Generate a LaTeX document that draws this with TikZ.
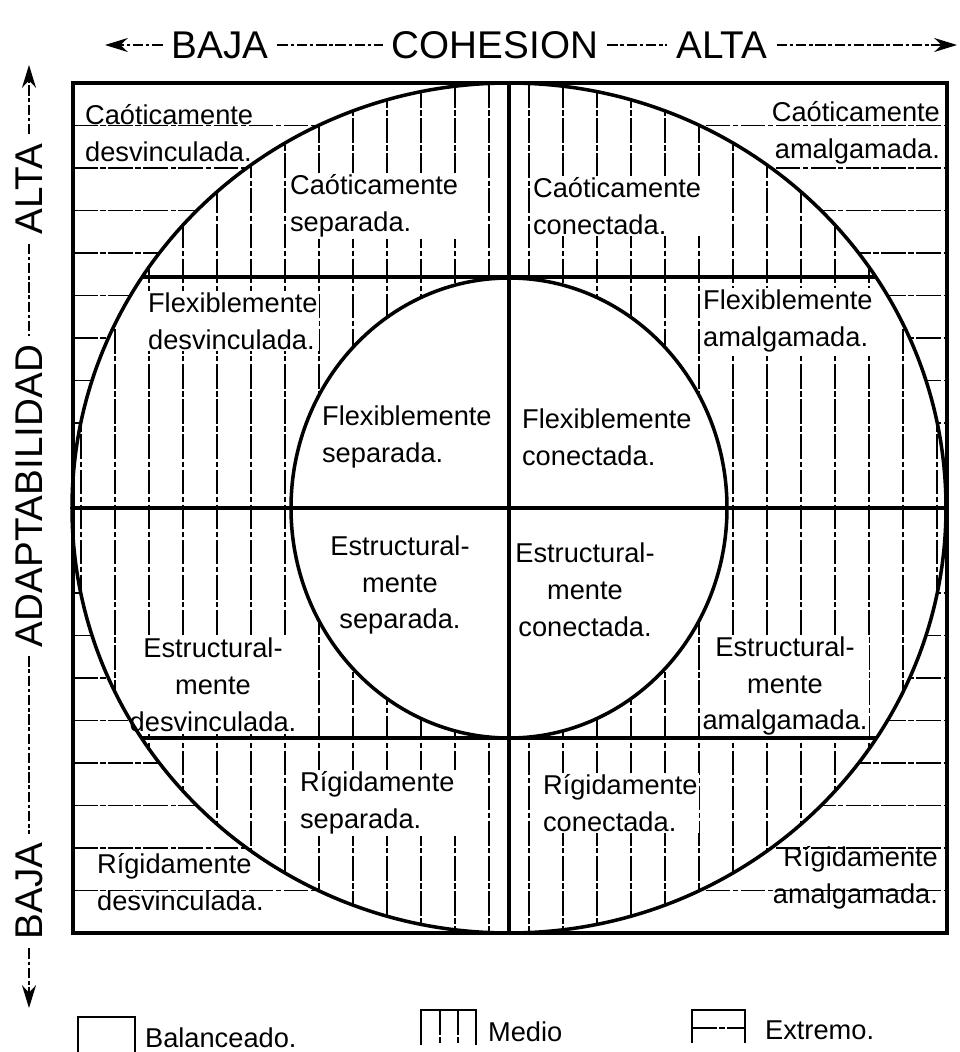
\documentclass[tikz,border=0pt]{standalone}
\usepackage{fontspec}
\setmainfont{Liberation Sans}
\usetikzlibrary{arrows.meta}

\tikzset{
    txt/.style={font=\fontsize{15.5}{21}\selectfont, inner sep=1pt},
    txtw/.style={txt, fill=white},
    eje/.style={font=\fontsize{22}{26}\selectfont, inner sep=5pt},
    rayado/.style={line width=0.7pt, dash pattern=on 14pt off 1.5pt on 3pt off 1.5pt},
    borde/.style={line width=2pt},
    flecha/.style={line width=0.8pt, dash pattern=on 6pt off 1.5pt on 2pt off 1.5pt},
    punta/.style={-{Stealth[length=13pt,width=8pt]}},
}

\begin{document}
\begin{tikzpicture}[x=0.02cm, y=-0.02cm]
        \useasboundingbox (0,0) rectangle (960,1052);

        % extremo
        \begin{scope}
            \clip (73,83) rectangle (947,933);
            \foreach \k in {1,...,19}
                \draw[rayado] (73,83+42.5*\k) -- (947,83+42.5*\k);
        \end{scope}

        % medio
        \fill[white] (509,508) ellipse [x radius=437, y radius=425];
        \begin{scope}
            \clip (509,508) ellipse [x radius=437, y radius=425];
            \foreach \k in {0,...,12} {
                \draw[rayado] (489-34*\k,83) -- (489-34*\k,933);
                \draw[rayado] (529+34*\k,83) -- (529+34*\k,933);
            }
        \end{scope}

        % balanceado
        \fill[white] (509,508) ellipse [x radius=218, y radius=230];

        \node[txt, anchor=west, align=left] (cdesv) at (83,133) {Caóticamente\\desvinculada.};
        \node[txtw, anchor=west, align=left] (csep) at (288,206) {Caóticamente\\separada.};
        \node[txtw, anchor=west, align=left] (ccon) at (531,206) {Caóticamente\\conectada.};
        \node[txt, anchor=east, align=right] (camal) at (942,133) {Caóticamente\\amalgamada.};

        \node[txtw, anchor=west, align=left] (fdesv) at (146,321) {Flexiblemente\\desvinculada.};
        \node[txt, anchor=west, align=left] (fsep) at (320,437) {Flexiblemente\\separada.};
        \node[txt, anchor=west, align=left] (fcon) at (520,437) {Flexiblemente\\conectada.};
        \node[txtw, anchor=west, align=left] (famal) at (701,321) {Flexiblemente\\amalgamada.};

        \node[txtw, align=center] (edesv) at (213,685) {Estructural-\\mente\\desvinculada.};
        \node[txt, align=center] (esep) at (400,585) {Estructural-\\mente\\separada.};
        \node[txt, align=center] (econ) at (585,590) {Estructural-\\mente\\conectada.};
        \node[txtw, align=center] (eamal) at (785,686) {Estructural-\\mente\\amalgamada.};

        \node[txt, anchor=west, align=left] (rdesv) at (95,882) {Rígidamente\\desvinculada.};
        \node[txtw, anchor=west, align=left] (rsep) at (298,803) {Rígidamente\\separada.};
        \node[txtw, anchor=west, align=left] (rcon) at (541,803) {Rígidamente\\conectada.};
        \node[txt, anchor=east, align=right] (ramal) at (940,878) {Rígidamente\\amalgamada.};

        \begin{scope}
            \clip (509,508) ellipse [x radius=437, y radius=425];
            \draw[borde] (73,277) -- (947,277);
            \draw[borde] (73,738) -- (947,738);
        \end{scope}
        \draw[borde] (73,508) -- (947,508);
        \draw[borde] (509,83) -- (509,933);
        \draw[borde] (509,508) ellipse [x radius=218, y radius=230];
        \draw[borde] (509,508) ellipse [x radius=437, y radius=425];
        \draw[borde] (73,83) rectangle (947,933);

        % cohesion
        \node[eje] (baja1) at (220,45) {BAJA};
        \node[eje] (cohesion) at (495,45) {COHESION};
        \node[eje] (alta1) at (722,45) {ALTA};
        \coordinate (izq) at (105,45);
        \coordinate (der) at (957,45);
        \draw[flecha, punta] (baja1) -- (izq);
        \draw[flecha] (baja1) -- (cohesion);
        \draw[flecha] (cohesion) -- (alta1);
        \draw[flecha, punta] (alta1) -- (der);

        % adaptabilidad
        \node[eje, rotate=90] (alta2) at (29,189) {ALTA};
        \node[eje, rotate=90] (adapt) at (29,496) {ADAPTABILIDAD};
        \node[eje, rotate=90] (baja2) at (29,891) {BAJA};
        \coordinate (arriba) at (29,65);
        \coordinate (abajo) at (29,1008);
        \draw[flecha, punta] (alta2) -- (arriba);
        \draw[flecha] (alta2) -- (adapt);
        \draw[flecha] (adapt) -- (baja2);
        \draw[flecha, punta] (baja2) -- (abajo);

        % leyenda
        \draw[line width=0.8pt] (78,1052) -- (78,1017) -- (135,1017) -- (135,1052);
        \node[txt, anchor=west] (bal) at (143,1038) {Balanceado.};
        \draw[line width=0.8pt] (421,1045) -- (421,1010) -- (476,1010) -- (476,1045);
        \draw[rayado] (440,1010) -- (440,1045);
        \draw[rayado] (458,1010) -- (458,1045);
        \node[txt, anchor=west] (medio) at (486,1032) {Medio};
        \draw[line width=0.8pt] (692,1043) -- (692,1010) -- (745,1010) -- (745,1043);
        \draw[rayado] (692,1028) -- (745,1028);
        \node[txt, anchor=west] (extremo) at (763,1030) {Extremo.};
\end{tikzpicture}
\end{document}
